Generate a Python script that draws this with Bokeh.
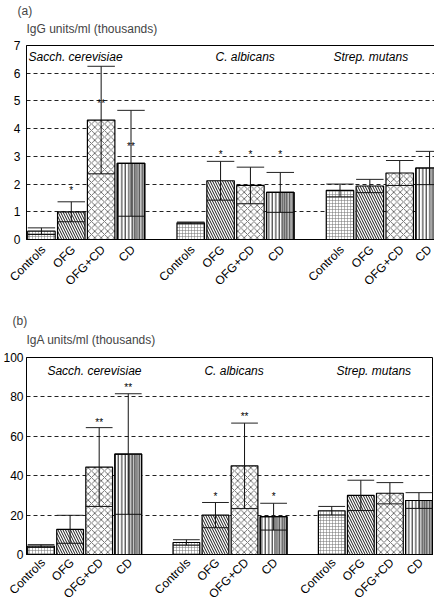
import math
from bokeh.plotting import figure
from bokeh.models import FixedTicker, Title, Range1d, ColumnDataSource, LinearAxis
from bokeh.layouts import column
from bokeh.embed import file_html
from bokeh.resources import INLINE
from bokeh.core.properties import value

# ---------------- data ----------------
groups = ["Sacch. cerevisiae", "C. albicans", "Strep. mutans"]
conditions = ["Controls", "OFG", "OFG+CD", "CD"]

igg_mean = [0.30, 1.00, 4.31, 2.75, 0.60, 2.12, 1.95, 1.70, 1.77, 1.93, 2.40, 2.58]
igg_sd = [0.12, 0.36, 1.94, 1.91, 0.03, 0.70, 0.66, 0.72, 0.23, 0.24, 0.45, 0.60]
igg_stars = ["", "*", "**", "**", "", "*", "*", "*", "", "", "", ""]
igg_star_y = [0, 1.78, 4.89, 3.36, 0, 3.08, 3.08, 3.08, 0, 0, 0, 0]
igg_ticks = [0, 1, 2, 3, 4, 5, 6, 7]

iga_mean = [4.3, 12.8, 44.4, 51.0, 6.1, 20.0, 45.0, 19.2, 22.2, 30.0, 31.1, 27.4]
iga_sd = [0.7, 7.1, 20.0, 30.6, 1.4, 6.4, 21.7, 6.8, 2.2, 7.7, 5.4, 4.0]
iga_stars = ["", "", "**", "**", "", "*", "**", "*", "", "", "", ""]
iga_star_y = [0, 0, 67.2, 84.8, 0, 29.6, 69.9, 29.6, 0, 0, 0, 0]
iga_ticks = [0, 20, 40, 60, 80, 100]

FONT = "Liberation Sans"
BAR_W = 0.92

styles = {
    "Controls": dict(hatch_pattern="cross", hatch_scale=3, hatch_weight=0.5, hatch_color="#6e6e6e"),
    "OFG": dict(hatch_pattern="left_diagonal_line", hatch_scale=5, hatch_weight=0.9, hatch_color="black"),
    "OFG+CD": dict(hatch_pattern="diagonal_cross", hatch_scale=6.5, hatch_weight=0.7, hatch_color="#333333"),
    "CD": dict(hatch_pattern="vertical_line", hatch_scale=3.5, hatch_weight=0.9, hatch_color="black"),
}

# slot positions: 4 bars per group, one empty slot between groups
xs = [g * 5 + i for g in range(len(groups)) for i in range(len(conditions))]
xlabels = {g * 5 + i: c for g in range(len(groups)) for i, c in enumerate(conditions)}


def make_panel(means, sds, stars, star_y, ticks, ylabel, tag, label_pos,
               frame_w, frame_h, left, top, bottom, right, lab_shift_px, lab_standoff,
               ystandoff, cap_pad, tag_pad, tag_offset):
    p = figure(frame_width=frame_w, frame_height=frame_h,
               x_range=Range1d(-0.5, 13.5), y_range=Range1d(ticks[0], ticks[-1]),
               output_backend="svg", toolbar_location=None, x_axis_location=None,
               min_border_left=left, min_border_top=top,
               min_border_bottom=bottom, min_border_right=right)
    p.background_fill_color = "white"
    p.border_fill_color = "white"
    p.outline_line_color = "black"
    p.outline_line_width = 1

    p.add_layout(Title(text=ylabel, text_font=FONT, text_font_size="12px",
                       text_font_style="normal", align="left", standoff=0,
                       padding=dict(left=0, right=0, top=0, bottom=cap_pad)), "above")
    p.add_layout(Title(text=tag, text_font=FONT, text_font_size="12px",
                       text_font_style="normal", align="left", offset=tag_offset,
                       standoff=0, padding=dict(left=0, right=0, top=tag_pad[0],
                                                bottom=tag_pad[1])), "above")

    # label axis on a slightly shifted range so rotated labels end just right of their bar
    d = lab_shift_px * 14.0 / frame_w
    p.extra_x_ranges = {"lab": Range1d(-0.5 - d, 13.5 - d)}
    xax = LinearAxis(x_range_name="lab", ticker=FixedTicker(ticks=xs),
                     major_label_overrides=xlabels,
                     major_label_orientation=math.pi / 4)
    p.add_layout(xax, "below")

    p.xgrid.visible = False
    p.ygrid.grid_line_color = "#222222"
    p.ygrid.grid_line_dash = "4 3"
    p.ygrid.grid_line_width = 1
    p.yaxis.ticker = FixedTicker(ticks=ticks)
    for ax in (xax, p.yaxis[0]):
        ax.axis_line_color = "black"
        ax.axis_line_width = 1
        ax.major_tick_in = 0
        ax.major_tick_out = 0
        ax.minor_tick_line_color = None
        ax.major_label_text_font = FONT
        ax.major_label_text_font_size = "12px"
        ax.major_label_text_color = "black"
    p.yaxis.major_label_standoff = ystandoff
    xax.major_label_standoff = lab_standoff

    for i, c in enumerate(conditions):
        idx = [g * len(conditions) + i for g in range(len(groups))]
        src = ColumnDataSource(dict(x=[xs[k] for k in idx], top=[means[k] for k in idx]))
        p.vbar(x="x", top="top", bottom=0, width=BAR_W, source=src,
               fill_color="white", line_color="black", line_width=1.2, **styles[c])
        if c == "CD":
            src2 = ColumnDataSource(dict(x=[xs[k] + BAR_W * 0.25 for k in idx],
                                         top=[means[k] for k in idx]))
            p.vbar(x="x", top="top", bottom=0, width=BAR_W * 0.45, source=src2,
                   fill_color="#8a8a8a", fill_alpha=0.5, line_color=None,
                   hatch_pattern="vertical_line", hatch_scale=2.5, hatch_weight=1,
                   hatch_color="#555555")
            p.vbar(x="x", top="top", bottom=0, width=BAR_W, source=src,
                   fill_color=None, line_color="black", line_width=1.2)

    lo = [m - s for m, s in zip(means, sds)]
    hi = [m + s for m, s in zip(means, sds)]
    p.segment(x0=xs, y0=lo, x1=xs, y1=hi, line_color="#111111", line_width=1)
    xl = [x - BAR_W / 2 for x in xs]
    xr = [x + BAR_W / 2 for x in xs]
    p.segment(x0=xl, y0=hi, x1=xr, y1=hi, line_color="#222222", line_width=1)
    p.segment(x0=xl, y0=lo, x1=xr, y1=lo, line_color="#111111", line_width=1)

    sx = [x for x, s in zip(xs, stars) if s]
    sy = [y for y, s in zip(star_y, stars) if s]
    st = [s for s in stars if s]
    p.text(x=sx, y=sy, text=st, text_align="center", text_baseline="middle",
           text_font=value(FONT), text_font_size="10px", text_color="#000000")

    gx = [pos[0] for pos in label_pos]
    gy = [pos[1] for pos in label_pos]
    p.text(x=gx, y=gy, text=groups, text_align="left", text_baseline="middle",
           text_font=value(FONT), text_font_size="12px", text_font_style="italic",
           text_color="black")
    return p


p1 = make_panel(igg_mean, igg_sd, igg_stars, igg_star_y, igg_ticks,
                "IgG units/ml (thousands)", "(a)",
                [(-0.43, 6.6), (5.83, 6.6), (9.78, 6.6)],
                frame_w=418, frame_h=194, left=14, top=20, bottom=69, right=0,
                lab_shift_px=2, lab_standoff=8, ystandoff=6, cap_pad=10,
                tag_pad=(1, 2), tag_offset=-9)
p2 = make_panel(iga_mean, iga_sd, iga_stars, iga_star_y, iga_ticks,
                "IgA units/ml (thousands)", "(b)",
                [(0.22, 92.9), (5.62, 92.9), (10.16, 92.9)],
                frame_w=407, frame_h=197, left=19, top=49, bottom=40, right=0,
                lab_shift_px=2, lab_standoff=6, ystandoff=3, cap_pad=11,
                tag_pad=(0, 3), tag_offset=-14)

layout = column(p1, p2, spacing=0)
open("out.html", "w").write(file_html(layout, INLINE))
